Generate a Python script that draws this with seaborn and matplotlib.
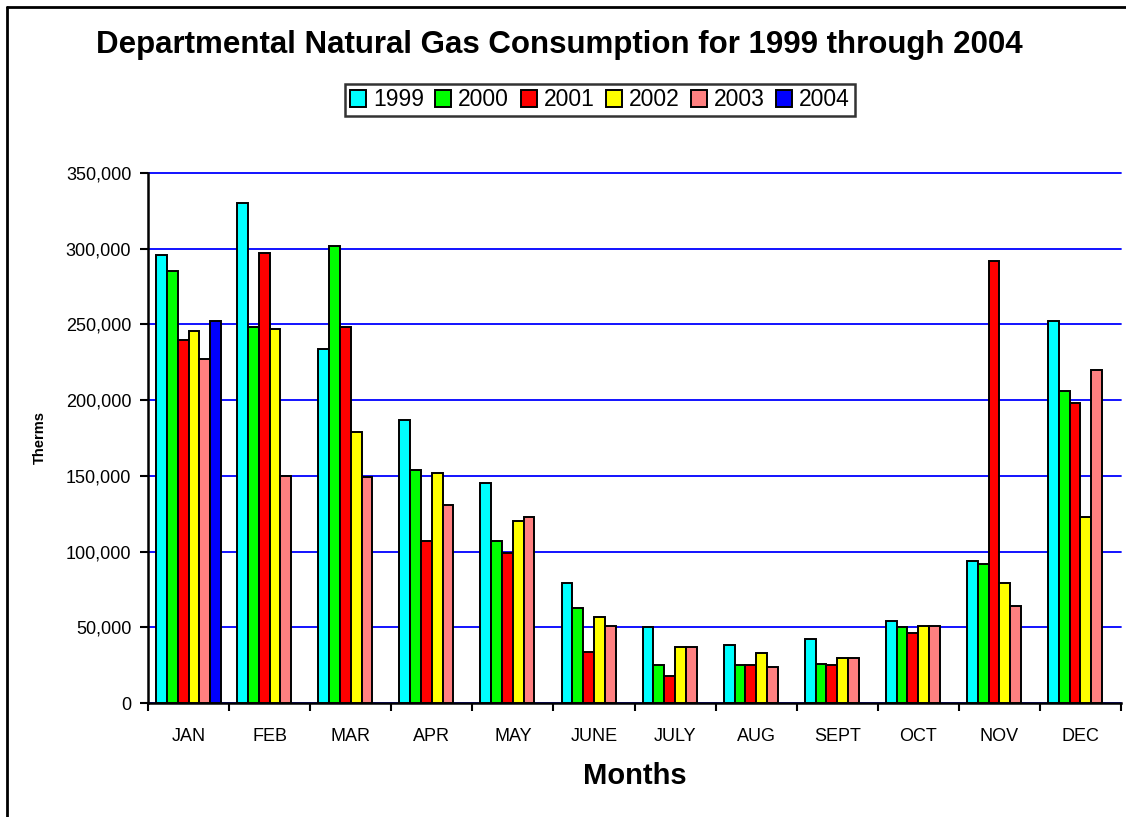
import numpy as np
import pandas as pd
import seaborn as sns
import matplotlib.pyplot as plt
from matplotlib.lines import Line2D
from matplotlib.ticker import FuncFormatter, FixedLocator

# Data (therms)
months = ['JAN', 'FEB', 'MAR', 'APR', 'MAY', 'JUNE', 'JULY', 'AUG', 'SEPT', 'OCT', 'NOV', 'DEC']
years = ['1999', '2000', '2001', '2002', '2003', '2004']
y1999 = [296000, 330000, 234000, 187000, 145000, 79000, 50000, 38000, 42000, 54000, 93500, 252000]
y2000 = [285000, 248000, 302000, 154000, 107000, 63000, 25000, 25000, 26000, 50000, 92000, 206000]
y2001 = [240000, 297000, 248000, 107000, 99000, 34000, 18000, 25000, 25000, 46000, 292000, 198000]
y2002 = [245500, 247000, 179000, 152000, 120000, 56500, 37000, 33000, 30000, 51000, 79000, 123000]
y2003 = [227000, 150000, 149000, 130500, 123000, 51000, 37000, 23500, 30000, 51000, 64000, 220000]
y2004 = [252000] + [np.nan] * 11
colors = ['#00FFFF', '#00FF00', '#FF0000', '#FFFF00', '#FF8080', '#0000FF']

series = [y1999, y2000, y2001, y2002, y2003, y2004]
df = pd.DataFrame({
    'Month': months * len(years),
    'Year': [y for y in years for _ in months],
    'Therms': [v for s in series for v in s],
}).dropna()

sns.set_style('white')
plt.rcParams['font.family'] = ['Liberation Sans', 'DejaVu Sans']
plt.rcParams['text.color'] = 'black'
plt.rcParams['axes.labelcolor'] = 'black'
plt.rcParams['xtick.color'] = 'black'
plt.rcParams['ytick.color'] = 'black'

fig = plt.figure(figsize=(11.26, 8.17), dpi=100)
ax = fig.add_axes([148 / 1126, 1 - 703 / 817, 973 / 1126, 530 / 817])

sns.barplot(data=df, x='Month', y='Therms', hue='Year', order=months, hue_order=years,
            palette=colors, errorbar=None, width=0.8, edgecolor='black', linewidth=1.4,
            saturation=1, ax=ax, zorder=3)

ax.set_xlim(-0.5, 11.5)
ax.set_ylim(0, 350000)
ax.set_yticks(range(0, 350001, 50000))
ax.yaxis.set_major_formatter(FuncFormatter(lambda v, p: f'{int(v):,}'))
ax.grid(axis='y', color='#0000FF', linewidth=1.3, zorder=0)
for gl in ax.get_ygridlines():
    gl.set_clip_on(False)
ax.set_axisbelow(True)

for s in ['top', 'right']:
    ax.spines[s].set_visible(False)
for s in ['left', 'bottom']:
    ax.spines[s].set_color('black')
    ax.spines[s].set_linewidth(1.8)

ax.tick_params(axis='y', direction='out', length=6, width=1.5, color='black',
               labelsize=13, pad=6, left=True)
ax.tick_params(axis='x', which='major', length=0, labelsize=13, pad=18)
ax.xaxis.set_minor_locator(FixedLocator(np.arange(-0.5, 12, 1)))
ax.tick_params(axis='x', which='minor', direction='out', length=6, width=1.5,
               color='black', bottom=True)

ax.set_xlabel('Months', fontsize=21, fontweight='bold', labelpad=12)
ax.set_ylabel('Therms', fontsize=10.5, fontweight='bold', labelpad=14)

handles, labels = ax.get_legend_handles_labels()
if ax.legend_:
    ax.legend_.remove()
leg = fig.legend(handles, labels, loc='center', bbox_to_anchor=(600 / 1126, 1 - 100 / 817),
                 ncol=6, fontsize=16.5, frameon=True, fancybox=False, edgecolor='black',
                 handlelength=0.7, handleheight=0.7, handletextpad=0.3, columnspacing=0.5,
                 borderpad=0.2, borderaxespad=0)
leg.get_frame().set_linewidth(1.8)

fig.text(559 / 1126, 1 - 45 / 817, 'Departmental Natural Gas Consumption for 1999 through 2004',
         ha='center', va='center', fontsize=22.5, fontweight='bold')

# outer chart frame (only top and left edges visible in the crop)
fig.add_artist(Line2D([7 / 1126, 7 / 1126], [0, 1 - 7 / 817], color='black', linewidth=2,
                      transform=fig.transFigure))
fig.add_artist(Line2D([7 / 1126, 1], [1 - 7 / 817, 1 - 7 / 817], color='black', linewidth=2,
                      transform=fig.transFigure))

fig.savefig('out.png', dpi=100)
